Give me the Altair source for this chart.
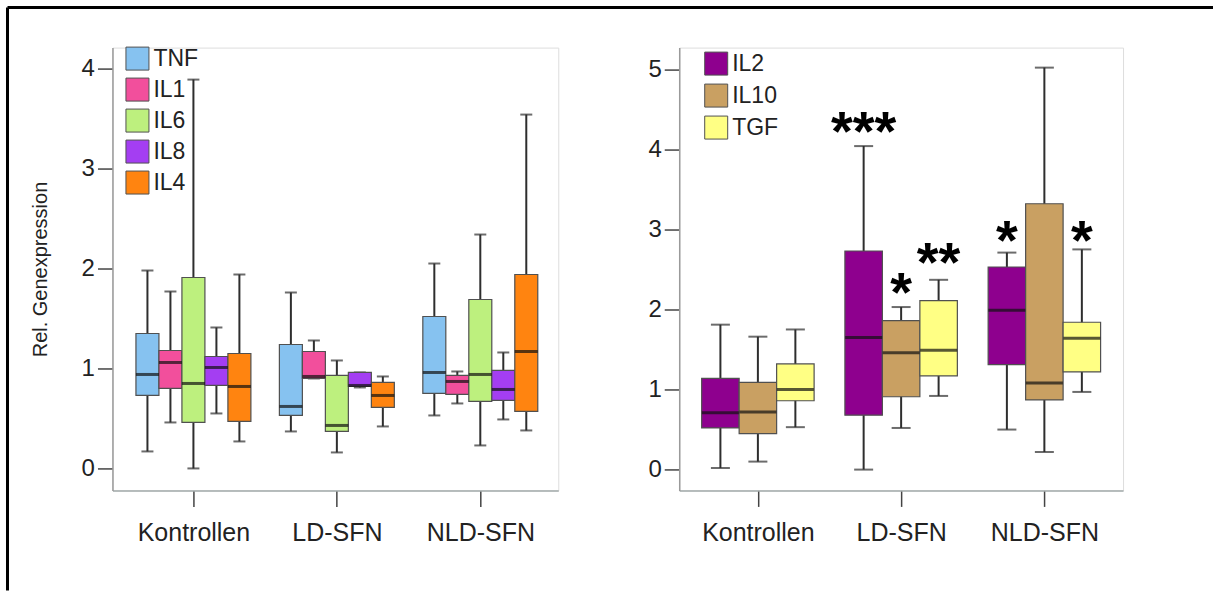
import altair as alt
import pandas as pd

GROUPS = ["Kontrollen", "LD-SFN", "NLD-SFN"]

# Left panel: pro-inflammatory cytokines (+ IL4)
LEFT_GENES = ["TNF", "IL1", "IL6", "IL8", "IL4"]
LEFT_COLORS = ["#86c2f0", "#f24f9c", "#bdf07e", "#a43ef2", "#ff8410"]
LEFT_LOW = {"TNF": [0.17, 0.37, 0.53], "IL1": [0.46, 0.90, 0.65], "IL6": [0.00, 0.16, 0.23],
            "IL8": [0.55, 0.81, 0.49], "IL4": [0.27, 0.42, 0.38]}
LEFT_Q1 = {"TNF": [0.73, 0.53, 0.75], "IL1": [0.80, 0.90, 0.74], "IL6": [0.46, 0.37, 0.67],
           "IL8": [0.83, 0.82, 0.68], "IL4": [0.47, 0.61, 0.57]}
LEFT_MED = {"TNF": [0.94, 0.62, 0.96], "IL1": [1.06, 0.92, 0.87], "IL6": [0.85, 0.43, 0.94],
            "IL8": [1.01, 0.83, 0.79], "IL4": [0.82, 0.73, 1.17]}
LEFT_Q3 = {"TNF": [1.35, 1.24, 1.52], "IL1": [1.18, 1.17, 0.93], "IL6": [1.91, 0.93, 1.69],
           "IL8": [1.12, 0.96, 0.98], "IL4": [1.15, 0.86, 1.94]}
LEFT_HIGH = {"TNF": [1.98, 1.76, 2.05], "IL1": [1.77, 1.28, 0.97], "IL6": [3.89, 1.08, 2.34],
             "IL8": [1.41, 0.96, 1.16], "IL4": [1.94, 0.92, 3.54]}

# Right panel: anti-inflammatory cytokines
RIGHT_GENES = ["IL2", "IL10", "TGF"]
RIGHT_COLORS = ["#8e008e", "#c9a062", "#ffff84"]
RIGHT_LOW = {"IL2": [0.02, 0.00, 0.50], "IL10": [0.10, 0.52, 0.22], "TGF": [0.53, 0.92, 0.97]}
RIGHT_Q1 = {"IL2": [0.52, 0.68, 1.31], "IL10": [0.45, 0.91, 0.87], "TGF": [0.86, 1.17, 1.22]}
RIGHT_MED = {"IL2": [0.71, 1.65, 1.99], "IL10": [0.72, 1.46, 1.08], "TGF": [1.00, 1.49, 1.64]}
RIGHT_Q3 = {"IL2": [1.14, 2.73, 2.53], "IL10": [1.09, 1.86, 3.32], "TGF": [1.32, 2.11, 1.84]}
RIGHT_HIGH = {"IL2": [1.81, 4.04, 2.71], "IL10": [1.66, 2.03, 5.02], "TGF": [1.75, 2.37, 2.75]}

# Significance markers (group, gene, label, height)
SIG_GROUP = ["LD-SFN", "LD-SFN", "LD-SFN", "NLD-SFN", "NLD-SFN"]
SIG_GENE = ["IL2", "IL10", "TGF", "IL2", "TGF"]
SIG_LABEL = ["***", "*", "**", "*", "*"]
SIG_Y = [4.36, 2.35, 2.73, 3.01, 3.01]

FONT = "Liberation Sans"
TXT = "#222222"
H = 443


def slot(genes, gene, group, box_units):
    """Centre of a gene's box inside its group on the numeric group axis."""
    k = genes.index(gene)
    return GROUPS.index(group) + (k - (len(genes) - 1) / 2) * box_units


def long_table(genes, box_units, low, q1, med, q3, high):
    rows = []
    for g in genes:
        for i, grp in enumerate(GROUPS):
            c = slot(genes, g, grp, box_units)
            rows.append({"group": grp, "gene": g, "xc": c,
                         "xl": c - box_units / 2, "xr": c + box_units / 2,
                         "low": low[g][i], "q1": q1[g][i], "med": med[g][i],
                         "q3": q3[g][i], "high": high[g][i]})
    return pd.DataFrame(rows)


def panel(df, genes, colors, xdomain, ydomain, yticks, ytitle, box_px, cap_px,
          legend_x, legend_y, legend_gap, width):
    xscale = alt.Scale(domain=xdomain, nice=False, zero=False)
    xaxis = alt.Axis(values=[0, 1, 2], grid=False,
                     labelExpr="['Kontrollen','LD-SFN','NLD-SFN'][datum.value]",
                     labelAngle=0, tickSize=16, tickWidth=1.5, tickColor="#444444",
                     domainColor="#a3abab", domainWidth=1.5, labelFontSize=25,
                     labelColor=TXT, labelPadding=14, labelFont=FONT, labelFlush=False)
    yscale = alt.Scale(domain=ydomain, nice=False, zero=False)
    axis_kw = dict(values=yticks, format="d", grid=False, tickSize=15, tickWidth=1.5,
                   tickColor="#444444", domainColor="#9a9a9a", domainWidth=1.5,
                   labelFontSize=24, labelColor=TXT, labelPadding=3, labelFont=FONT)
    if ytitle:
        axis_kw.update(titleFontSize=20, titleFontWeight="normal", titleColor=TXT,
                       titleFont=FONT, titleX=-72, titleY=H / 2, titleAngle=-90,
                       titleAlign="center", titleBaseline="middle")
    yaxis = alt.Axis(**axis_kw)

    base = alt.Chart(df)
    whisker = base.mark_rule(color="#2e2e2e", strokeWidth=2).encode(
        x=alt.X("xc:Q", scale=xscale, axis=xaxis, title=None),
        y=alt.Y("low:Q", scale=yscale, axis=yaxis, title=ytitle), y2="high:Q")
    cap_lo = base.mark_tick(orient="horizontal", size=cap_px, thickness=2, color="#2e2e2e").encode(
        x=alt.X("xc:Q", title=None), y=alt.Y("low:Q", title=ytitle))
    cap_hi = base.mark_tick(orient="horizontal", size=cap_px, thickness=2, color="#2e2e2e").encode(
        x=alt.X("xc:Q", title=None), y=alt.Y("high:Q", title=ytitle))
    box = base.mark_rect(stroke="#505050", strokeWidth=1.2).encode(
        x=alt.X("xl:Q", title=None), x2="xr:Q",
        y=alt.Y("q1:Q", title=ytitle), y2="q3:Q",
        color=alt.Color("gene:N", sort=genes, scale=alt.Scale(domain=genes, range=colors),
                        legend=alt.Legend(orient="none", legendX=legend_x, legendY=legend_y,
                                          title=None, symbolType="square", symbolSize=529,
                                          symbolStrokeColor="#505050", symbolStrokeWidth=1,
                                          symbolOpacity=1, labelFontSize=23, labelColor=TXT,
                                          labelFont=FONT, labelOffset=4, rowPadding=legend_gap,
                                          padding=0)))
    median = base.mark_tick(orient="horizontal", size=box_px, thickness=3, color="#111111").encode(
        x=alt.X("xc:Q", title=None), y=alt.Y("med:Q", title=ytitle))
    return [whisker, cap_lo, cap_hi, box, median]


# Left panel: 446 px wide, groups 143.5 px apart, boxes 23 px wide
W_L = 446
L_UNIT = 143.5
L_XDOM = [-81 / L_UNIT, -81 / L_UNIT + W_L / L_UNIT]
left_df = long_table(LEFT_GENES, 23 / L_UNIT, LEFT_LOW, LEFT_Q1, LEFT_MED, LEFT_Q3, LEFT_HIGH)
left_layers = panel(left_df, LEFT_GENES, LEFT_COLORS, L_XDOM, [-0.22, 4.21], [0, 1, 2, 3, 4],
                    "Rel. Genexpression", 23, 12, 13, -1, 3, W_L)

# Figure frame: top and left border lines
frame_df = pd.DataFrame({"k": [0]})
frame_top = alt.Chart(frame_df).mark_rule(color="black", strokeWidth=3).encode(
    x=alt.value(-105), x2=alt.value(1101), y=alt.value(-40))
frame_left = alt.Chart(frame_df).mark_rule(color="black", strokeWidth=3).encode(
    x=alt.value(-105), y=alt.value(-40), y2=alt.value(543))

left = alt.layer(*left_layers, frame_top, frame_left).properties(width=W_L, height=H)

# Right panel: 444 px wide, groups 143.3 px apart, boxes 37.5 px wide
W_R = 444
R_UNIT = 143.3
R_BOX = 37.5 / R_UNIT
R_XDOM = [-78.7 / R_UNIT, -78.7 / R_UNIT + W_R / R_UNIT]
right_df = long_table(RIGHT_GENES, R_BOX, RIGHT_LOW, RIGHT_Q1, RIGHT_MED, RIGHT_Q3, RIGHT_HIGH)
right_layers = panel(right_df, RIGHT_GENES, RIGHT_COLORS, R_XDOM, [-0.26, 5.27], [0, 1, 2, 3, 4, 5],
                     None, 37, 19, 25, 4, 4, W_R)

sig_df = pd.DataFrame({"group": SIG_GROUP, "gene": SIG_GENE, "label": SIG_LABEL, "y": SIG_Y})
sig_df["xc"] = [slot(RIGHT_GENES, g, grp, R_BOX) for g, grp in zip(SIG_GENE, SIG_GROUP)]
stars = alt.Chart(sig_df).mark_text(fontSize=56, fontWeight="bold", color="black", dy=30,
                                    baseline="alphabetic", font=FONT).encode(
    x=alt.X("xc:Q", title=None), y=alt.Y("y:Q", title=None), text="label:N")

right = alt.layer(*right_layers, stars).properties(width=W_R, height=H)

chart = alt.hconcat(left, right, spacing=121, bounds="flush").resolve_scale(
    color="independent").resolve_legend(color="independent").properties(
    padding={"left": 5.5, "top": 5.5, "right": 0, "bottom": 0},
    background="white",
).configure_view(stroke=None).configure(font=FONT)

chart.save("out.html", embed_options={"renderer": "svg", "actions": False})
